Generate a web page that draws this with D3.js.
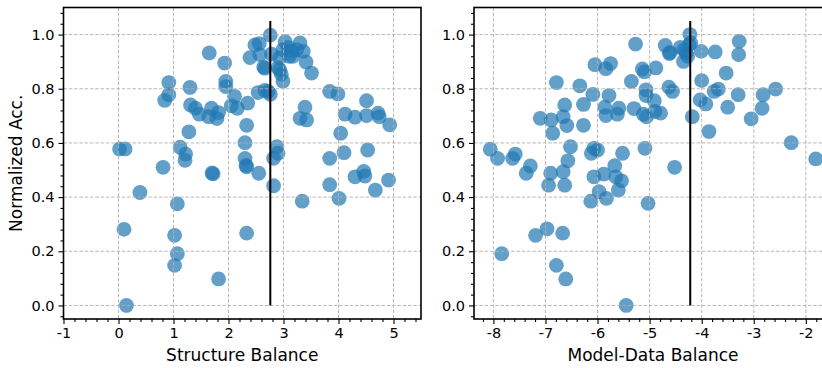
<!DOCTYPE html>
<html>
<head>
<meta charset="utf-8">
<script src="https://cdn.jsdelivr.net/npm/d3@7"></script>
<style>
  html, body { margin: 0; padding: 0; background: #fff; }
  svg { display: block; }
  text { font-family: "DejaVu Sans", sans-serif; fill: #000; }
</style>
</head>
<body>
<svg id="chart" width="822" height="368"></svg>
<script>
// Structure balance vs. normalized accuracy
const structX = [0.02, 0.12, 0.39, 0.10, 0.145, 0.81, 0.84, 0.915, 0.915, 1.12, 1.22, 1.21, 1.07, 1.02, 1.07, 1.02,
  1.30, 1.31, 1.40, 1.47, 1.28, 1.65, 1.69, 1.82, 1.64, 1.79, 1.70, 1.72, 1.82, 1.93, 1.95, 1.95,
  2.11, 2.05, 2.16, 2.35, 2.33, 2.30, 2.30, 2.32, 2.33, 2.33, 2.55, 2.39, 2.48, 2.56, 2.57,
  2.66, 2.64, 2.54, 2.66, 2.72, 2.76, 2.76, 2.78, 2.90, 2.93, 2.96, 2.99, 2.93,
  3.03, 2.99, 3.08, 3.15, 3.24, 3.17, 3.10, 3.30, 3.36, 3.41, 3.51, 2.88, 2.90, 2.82, 2.82,
  3.39, 3.30, 3.42, 3.34, 3.84, 3.99, 4.12, 4.30, 4.51, 4.51, 4.72, 4.74, 4.93,
  4.04, 4.10, 4.53, 3.84, 3.84, 4.01, 4.30, 4.46, 4.48, 4.67, 4.91];
const structY = [0.578, 0.578, 0.417, 0.281, 0.0, 0.51, 0.757, 0.778, 0.823, 0.584, 0.559, 0.536, 0.375, 0.259, 0.191, 0.148,
  0.805, 0.74, 0.728, 0.706, 0.641, 0.932, 0.728, 0.712, 0.697, 0.69, 0.489, 0.486, 0.098, 0.895, 0.827, 0.808,
  0.772, 0.737, 0.728, 0.747, 0.665, 0.601, 0.543, 0.517, 0.512, 0.267, 0.488, 0.915, 0.962, 0.967, 0.926,
  0.876, 0.880, 0.786, 0.794, 0.79, 0.78, 0.998, 0.928, 0.878, 0.870, 0.854, 0.828, 0.914,
  0.974, 0.944, 0.953, 0.938, 0.944, 0.92, 0.92, 0.969, 0.938, 0.899, 0.858, 0.586, 0.562, 0.543, 0.442,
  0.732, 0.691, 0.685, 0.385, 0.79, 0.781, 0.706, 0.695, 0.756, 0.701, 0.71, 0.697, 0.667,
  0.636, 0.564, 0.574, 0.543, 0.446, 0.395, 0.475, 0.495, 0.478, 0.426, 0.463];

// Model-data balance vs. normalized accuracy
const modelX = [-8.06, -7.92, -7.63, -7.58, -7.29, -7.37, -7.84,
  -7.10, -6.89, -6.66, -6.59, -6.86, -6.63, -6.79,
  -6.52, -6.57, -6.90, -6.66, -6.94, -6.63,
  -6.97, -7.19, -6.67, -6.79, -6.61,
  -6.34, -6.27, -6.27, -6.09, -6.05,
  -6.07, -6.00, -6.12, -6.07, -5.88, -5.97, -5.83, -6.13,
  -5.84, -5.75, -5.78, -5.86, -5.84, -5.59, -5.62,
  -5.67, -5.65, -5.54, -5.60, -5.52, -5.45,
  -5.27, -5.35, -5.30, -5.14, -5.10, -5.07, -5.07,
  -5.12, -5.06, -5.09, -5.03,
  -4.88, -4.91, -4.90, -4.79,
  -4.70, -4.61, -4.62, -4.63, -4.56, -4.52,
  -4.41, -4.34, -4.30, -4.27, -4.35, -4.24, -4.21, -4.227, -4.18,
  -4.01, -4.00, -4.03, -3.92, -3.86,
  -3.74, -3.76, -3.68, -3.53, -3.50,
  -3.28, -3.29, -3.30, -3.05,
  -2.84, -2.82, -2.58, -2.28, -1.81];
const modelY = [0.577, 0.543, 0.543, 0.559, 0.515, 0.488, 0.191,
  0.691, 0.685, 0.697, 0.664, 0.636, 0.74, 0.823,
  0.586, 0.534, 0.488, 0.494, 0.444, 0.444,
  0.283, 0.259, 0.267, 0.148, 0.098,
  0.811, 0.742, 0.665, 0.779, 0.889,
  0.58, 0.574, 0.562, 0.475, 0.485, 0.42, 0.395, 0.385,
  0.874, 0.893, 0.775, 0.732, 0.701, 0.728, 0.706,
  0.516, 0.475, 0.46, 0.426, 0.562, 0.0,
  0.965, 0.827, 0.727, 0.873, 0.862, 0.796, 0.775,
  0.706, 0.697, 0.58, 0.377,
  0.877, 0.756, 0.716, 0.71,
  0.96, 0.934, 0.930, 0.806, 0.79, 0.51,
  0.953, 0.944, 0.932, 0.92, 0.901, 0.963, 0.969, 1.0, 0.697,
  0.938, 0.83, 0.759, 0.744, 0.642,
  0.936, 0.79, 0.799, 0.858, 0.732,
  0.975, 0.926, 0.778, 0.689,
  0.728, 0.778, 0.799, 0.601, 0.541];

const structTicks = [-1, 0, 1, 2, 3, 4, 5];
const modelTicks = [-8, -7, -6, -5, -4, -3, -2];
const accTicks = [0.0, 0.2, 0.4, 0.6, 0.8, 1.0];
const structThreshold = 2.76;
const modelThreshold = -4.22;
const thresholdTop = 1.05;
const xLabels = ["Structure Balance", "Model-Data Balance"];
const yLabel = "Normalized Acc.";

const svg = d3.select("#chart");
const plotTop = 7.5, plotBottom = 319;
const yDomain = [-0.05, 1.1];

// matplotlib-style 5% autoscale margin
function padded(values) {
  const [lo, hi] = d3.extent(values);
  const m = (hi - lo) * 0.05;
  return [lo - m, hi + m];
}

const panels = [
  { id: "s", xs: structX, ys: structY, left: 63.5, right: 421, xDomain: [-1, 5.5],
    ticks: structTicks, threshold: structThreshold, label: xLabels[0], yTitle: true },
  { id: "m", xs: modelX, ys: modelY, left: 474, right: 832, xDomain: padded(modelX),
    ticks: modelTicks, threshold: modelThreshold, label: xLabels[1], yTitle: false }
];

const fmtY = d3.format(".1f");
const minorY = d3.range(-1, 28).filter(k => k % 5 !== 0).map(k => k * 0.04);

panels.forEach(p => {
  const x = d3.scaleLinear().domain(p.xDomain).range([p.left, p.right]);
  const y = d3.scaleLinear().domain(yDomain).range([plotBottom, plotTop]);
  const g = svg.append("g");

  g.append("clipPath").attr("id", "clip-" + p.id)
    .append("rect").attr("x", p.left).attr("y", plotTop)
    .attr("width", p.right - p.left).attr("height", plotBottom - plotTop);

  // points
  g.append("g").attr("clip-path", `url(#clip-${p.id})`)
    .selectAll("circle").data(d3.zip(p.xs, p.ys)).join("circle")
    .attr("cx", d => x(d[0])).attr("cy", d => y(d[1]))
    .attr("r", 7.4)
    .attr("fill", "#1f77b4").attr("fill-opacity", 0.7);

  // dashed grid sits above the scatter
  const grid = g.append("g").attr("stroke", "#b0b0b0").attr("stroke-width", 0.9)
    .attr("stroke-dasharray", "3.5,1.8");
  grid.selectAll(".gx").data(p.ticks.filter(t => t >= p.xDomain[0] && t <= p.xDomain[1]))
    .join("line").attr("x1", d => x(d)).attr("x2", d => x(d))
    .attr("y1", plotTop).attr("y2", plotBottom);
  grid.selectAll(".gy").data(accTicks).join("line")
    .attr("x1", p.left).attr("x2", p.right)
    .attr("y1", d => y(d)).attr("y2", d => y(d));

  // threshold line
  g.append("line")
    .attr("x1", x(p.threshold)).attr("x2", x(p.threshold))
    .attr("y1", y(0)).attr("y2", y(thresholdTop))
    .attr("stroke", "#000").attr("stroke-width", 2);

  // axes
  const xMinor = d3.range(-45, 30).map(k => k * 0.2)
    .filter(v => v >= p.xDomain[0] && v <= p.xDomain[1] && Math.abs(v - Math.round(v)) > 1e-6);

  const xAxis = g.append("g").attr("transform", `translate(0,${plotBottom})`)
    .call(d3.axisBottom(x).tickValues(p.ticks).tickSize(5).tickPadding(3.5).tickFormat(d => String(d)));
  const xAxisMinor = g.append("g").attr("transform", `translate(0,${plotBottom})`)
    .call(d3.axisBottom(x).tickValues(xMinor).tickSize(3).tickFormat(""));
  const yAxis = g.append("g").attr("transform", `translate(${p.left},0)`)
    .call(d3.axisLeft(y).tickValues(accTicks).tickSize(5).tickPadding(4).tickFormat(fmtY));
  const yAxisMinor = g.append("g").attr("transform", `translate(${p.left},0)`)
    .call(d3.axisLeft(y).tickValues(minorY).tickSize(3).tickFormat(""));

  [xAxis, xAxisMinor, yAxis, yAxisMinor].forEach(a => {
    a.select(".domain").remove();
    a.selectAll(".tick line").attr("stroke", "#000").attr("stroke-width", 1.1);
    a.selectAll(".tick text").style("font-family", "DejaVu Sans").style("font-size", "14.5px").attr("fill", "#000");
  });

  // frame
  g.append("rect").attr("x", p.left).attr("y", plotTop)
    .attr("width", p.right - p.left).attr("height", plotBottom - plotTop)
    .attr("fill", "none").attr("stroke", "#000").attr("stroke-width", 1.6);

  g.append("text")
    .attr("x", (p.left + p.right) / 2).attr("y", 361)
    .attr("text-anchor", "middle").style("font-size", "17px")
    .text(p.label);

  if (p.yTitle) {
    g.append("text")
      .attr("transform", `translate(22,${(plotTop + plotBottom) / 2}) rotate(-90)`)
      .attr("text-anchor", "middle").style("font-size", "17px")
      .text(yLabel);
  }
});
</script>
</body>
</html>
